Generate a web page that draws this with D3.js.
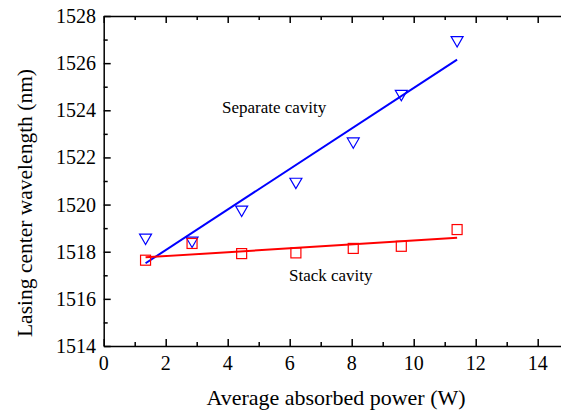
<!DOCTYPE html>
<html>
<head>
<meta charset="utf-8">
<script src="https://cdn.jsdelivr.net/npm/d3@7"></script>
<style>
  body { margin: 0; background: #fff; }
  svg { display: block; font-family: "Liberation Serif", "Times New Roman", serif; }
</style>
</head>
<body>
<div id="container"></div>
<script>
// datos
var potencia = [1.35, 2.85, 4.45, 6.2, 8.05, 9.6, 11.4]
var separada = [1518.6, 1518.47, 1519.79, 1520.97, 1522.68, 1524.7, 1526.98]
var apilada = [1517.64, 1518.35, 1517.92, 1517.95, 1518.14, 1518.23, 1518.94]
// rectas de ajuste (extremos leidos)
var ajusteSeparada = [[1.35, 1517.51], [11.4, 1526.15]]
var ajusteApilada = [[1.35, 1517.76], [11.4, 1518.59]]
var ticksX = [0, 2, 4, 6, 8, 10, 12, 14]
var ticksY = [1514, 1516, 1518, 1520, 1522, 1524, 1526, 1528]

var ancho = 561
var alto = 412

var x = d3.scaleLinear().domain([0, 15]).range([103.7, 568.7])
var y = d3.scaleLinear().domain([1514, 1528]).range([346, 16])

var svg = d3.select("#container")
    .append("svg")
    .attr("width", ancho)
    .attr("height", alto)

// ejes
var menoresX = d3.range(1, 16, 2)
var menoresY = d3.range(1515, 1528, 2)

function ejeX(g, arriba) {
    var eje = (arriba ? d3.axisBottom(x) : d3.axisTop(x))
        .tickValues(ticksX).tickSize(7).tickSizeOuter(0).tickFormat("")
    g.call(eje)
    var menor = (arriba ? d3.axisBottom(x) : d3.axisTop(x))
        .tickValues(menoresX).tickSize(4).tickSizeOuter(0).tickFormat("")
    g.append("g").call(menor).select(".domain").remove()
}

var abajo = svg.append("g").attr("transform", "translate(0," + y(1514) + ")")
ejeX(abajo, false)
var arriba = svg.append("g").attr("transform", "translate(0," + y(1528) + ")")
ejeX(arriba, true)

var izq = svg.append("g").attr("transform", "translate(" + x(0) + ",0)")
izq.call(d3.axisRight(y).tickValues(ticksY).tickSize(7).tickSizeOuter(0).tickFormat(""))
izq.append("g").call(d3.axisRight(y).tickValues(menoresY).tickSize(4).tickSizeOuter(0).tickFormat(""))
    .select(".domain").remove()

svg.selectAll(".domain, .tick line")
    .attr("stroke", "#000")
    .attr("stroke-width", 1.5)

// etiquetas de los ticks
svg.selectAll(".etx")
    .data(ticksX)
    .enter()
    .append("text")
    .attr("x", function(d){ return x(d) })
    .attr("y", 370)
    .attr("text-anchor", "middle")
    .attr("font-size", 20)
    .text(function(d){ return d })

svg.selectAll(".ety")
    .data(ticksY)
    .enter()
    .append("text")
    .attr("x", 96)
    .attr("y", function(d){ return y(d) + 7 })
    .attr("text-anchor", "end")
    .attr("font-size", 20)
    .text(function(d){ return d })

// titulos
svg.append("text")
    .attr("x", 336)
    .attr("y", 405)
    .attr("text-anchor", "middle")
    .attr("font-size", 22)
    .text("Average absorbed power (W)")

svg.append("text")
    .attr("transform", "translate(32,203) rotate(-90)")
    .attr("text-anchor", "middle")
    .attr("font-size", 21.5)
    .text("Lasing center wavelength (nm)")

// rectas de ajuste
var linea = d3.line()
    .x(function(d){ return x(d[0]) })
    .y(function(d){ return y(d[1]) })

svg.append("path")
    .attr("d", linea(ajusteSeparada))
    .attr("fill", "none")
    .attr("stroke", "#0000ff")
    .attr("stroke-width", 2)

svg.append("path")
    .attr("d", linea(ajusteApilada))
    .attr("fill", "none")
    .attr("stroke", "#ff0000")
    .attr("stroke-width", 2)

// puntos
var triangulo = d3.symbol().type(d3.symbolTriangle).size(62)

svg.selectAll(".tri")
    .data(separada)
    .enter()
    .append("path")
    .attr("d", triangulo)
    .attr("transform", function(d, i){
        return "translate(" + x(potencia[i]) + "," + y(d) + ") rotate(180)"
    })
    .attr("fill", "none")
    .attr("stroke", "#0000ff")
    .attr("stroke-width", 1.2)

svg.selectAll(".cuad")
    .data(apilada)
    .enter()
    .append("rect")
    .attr("x", function(d, i){ return x(potencia[i]) - 5 })
    .attr("y", function(d){ return y(d) - 5 })
    .attr("width", 10)
    .attr("height", 10)
    .attr("fill", "none")
    .attr("stroke", "#ff0000")
    .attr("stroke-width", 1.2)

// textos
svg.append("text")
    .attr("x", 222)
    .attr("y", 113)
    .attr("font-size", 17)
    .text("Separate cavity")

svg.append("text")
    .attr("x", 289)
    .attr("y", 281)
    .attr("font-size", 17)
    .text("Stack cavity")
</script>
</body>
</html>
